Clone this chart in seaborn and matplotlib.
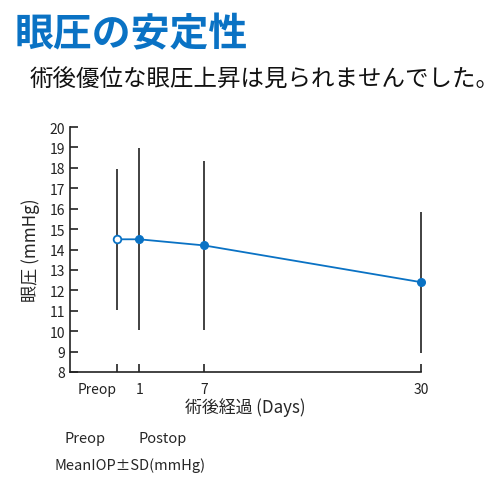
import numpy as np
import pandas as pd
import seaborn as sns
import matplotlib.pyplot as plt

sns.set_style("ticks")
plt.rcParams['font.family'] = ['Noto Sans CJK JP', 'DejaVu Sans']

# data
timepoints = ['Preop', '1', '7', '30']
mean_iop = [14.5, 14.5, 14.2, 12.4]
sd_iop = [3.45, 4.45, 4.15, 3.45]
# where each time point sits on the (non-linear) x axis
x_pos = [0, 1, 3.95, 13.8]

df = pd.DataFrame({'pos': x_pos, 'iop': mean_iop, 'sd': sd_iop, 'label': timepoints})

blue = '#0a72c4'

fig = plt.figure(figsize=(5, 4.89), dpi=100)
ax = fig.add_axes([70/500, 116/489, 351/500, 245/489])

eb = ax.errorbar(df['pos'], df['iop'], yerr=df['sd'], fmt='none', ecolor='#333333',
                 elinewidth=1.3, capsize=0, zorder=1)
for c in eb.lines[2]:
    c.set_clip_on(False)
sns.lineplot(data=df, x='pos', y='iop', color=blue, linewidth=1.3, ax=ax, zorder=2)
# preop open, postop filled
ax.plot(df['pos'][:1], df['iop'][:1], 'o', ms=5.5, mfc='white', mec=blue, mew=1.3,
        zorder=3, clip_on=False)
ax.plot(df['pos'][1:], df['iop'][1:], 'o', ms=5.5, color=blue, zorder=3, clip_on=False)

ax.set_xlim(-2.14, 13.8)
ax.set_ylim(8, 20)
ax.set_yticks(range(8, 21))
ax.set_xticks(x_pos)
ax.set_xticklabels(timepoints)
ax.get_xticklabels()[0].set_horizontalalignment('right')
ax.tick_params(direction='in', length=6, width=1.2, labelsize=10, colors='#222222')
ax.tick_params(axis='x', pad=7)
for s in ['left', 'bottom']:
    ax.spines[s].set_linewidth(1.2)
    ax.spines[s].set_color('#222222')
sns.despine(ax=ax)

ax.set_xlabel('術後経過 (Days)', fontsize=12.2, labelpad=1)
ax.set_ylabel('眼圧 (mmHg)', fontsize=12.3, labelpad=7)

fig.text(15/500, 1 - 35/489, '眼圧の安定性', fontsize=28, fontweight='bold',
         color=blue, va='center', ha='left')
fig.text(30/500, 1 - 80/489, '術後優位な眼圧上昇は見られませんでした。', fontsize=16.9,
         color='#111111', va='center', ha='left')
fig.text(65/500, 1 - 439/489, 'Preop', fontsize=10.5, va='center', ha='left')
fig.text(139/500, 1 - 439/489, 'Postop', fontsize=10.5, va='center', ha='left')
fig.text(55/500, 1 - 466/489, 'MeanIOP±SD(mmHg)', fontsize=10.5, va='center', ha='left')

fig.savefig('out.png', dpi=100)
